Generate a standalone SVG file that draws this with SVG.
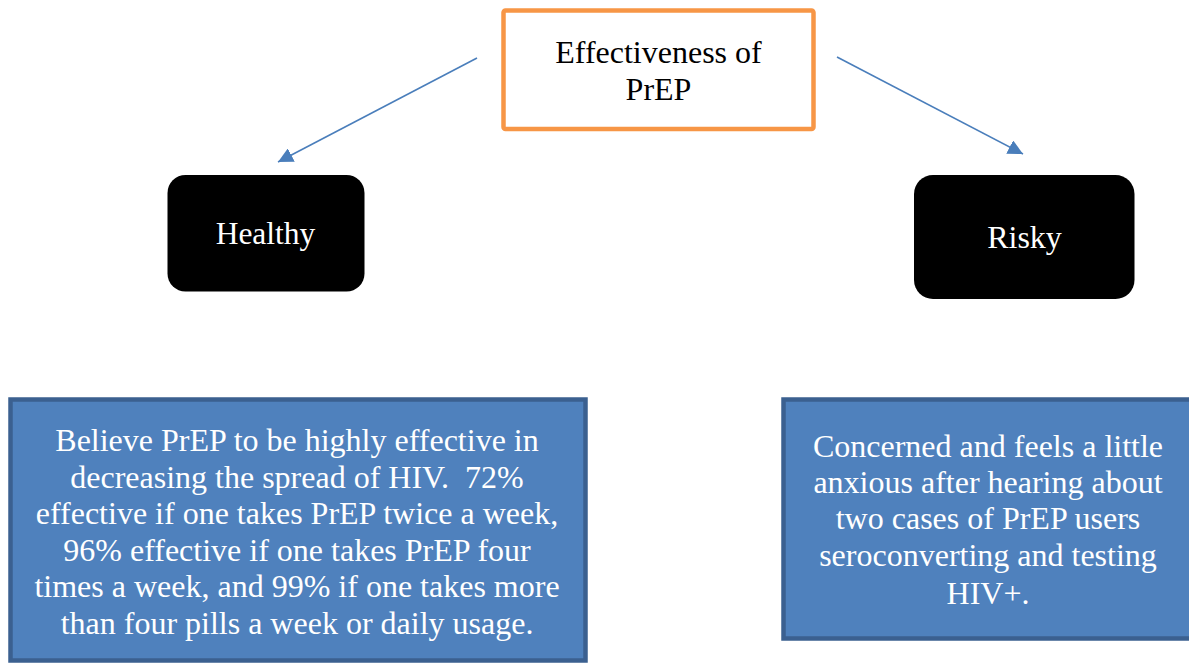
<svg xmlns="http://www.w3.org/2000/svg" width="1189" height="664" viewBox="0 0 1189 664">
<style>
.t{font-family:"Liberation Serif","Times New Roman",serif;text-anchor:middle;white-space:pre}
.blk{fill:#000}
.wht{fill:#fff}
.conn{stroke:#4A7EBB;stroke-width:1.6;fill:none}
.blue{fill:#4F81BD;stroke:#3B6090;stroke-width:4.5}
</style>
<defs>
<marker id="ah" viewBox="0 0 10 10" refX="10" refY="5" markerWidth="15" markerHeight="15" markerUnits="userSpaceOnUse" orient="auto">
<path d="M0,0 L10,5 L0,10 z" fill="#4A7EBB"/>
</marker>
</defs>
<rect width="1189" height="664" fill="#fff"/>
<g id="connectors">
<line class="conn" x1="477" y1="58" x2="278" y2="162" marker-end="url(#ah)"/>
<line class="conn" x1="837" y1="57" x2="1023" y2="154" marker-end="url(#ah)"/>
</g>
<g id="top">
<rect x="503.5" y="10.5" width="310" height="118.5" rx="2" fill="#fff" stroke="#F79646" stroke-width="4.5"/>
<text class="t blk" x="658.5" y="63.3" font-size="32">Effectiveness of</text>
<text class="t blk" x="658.5" y="100" font-size="32">PrEP</text>
</g>
<g id="healthy">
<rect x="167.5" y="175" width="197" height="116.5" rx="18" fill="#000"/>
<text class="t wht" x="265.5" y="244" font-size="31.5">Healthy</text>
</g>
<g id="risky">
<rect x="914" y="175" width="220.5" height="124" rx="19" fill="#000"/>
<text class="t wht" x="1024.5" y="248" font-size="32">Risky</text>
</g>
<g id="healthy-detail">
<rect class="blue" x="10.5" y="399.5" width="575" height="261"/>
<text class="t wht" font-size="32" xml:space="preserve"><tspan x="297" y="451">Believe PrEP to be highly effective in</tspan><tspan x="297" y="487.7">decreasing the spread of HIV.  72%</tspan><tspan x="297" y="524.3">effective if one takes PrEP twice a week,</tspan><tspan x="297" y="560.7">96% effective if one takes PrEP four</tspan><tspan x="297" y="596.7">times a week, and 99% if one takes more</tspan><tspan x="297" y="634">than four pills a week or daily usage.</tspan></text>
</g>
<g id="risky-detail">
<rect class="blue" x="783.5" y="399.5" width="409" height="239"/>
<text class="t wht" font-size="32"><tspan x="988" y="456.7">Concerned and feels a little</tspan><tspan x="988" y="492.7">anxious after hearing about</tspan><tspan x="988" y="529.3">two cases of PrEP users</tspan><tspan x="988" y="566">seroconverting and testing</tspan><tspan x="988" y="604.3">HIV+.</tspan></text>
</g>
</svg>
